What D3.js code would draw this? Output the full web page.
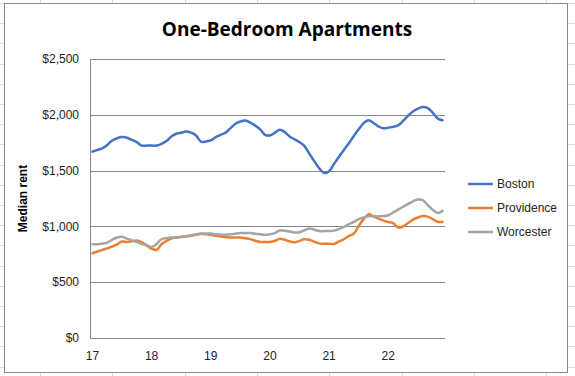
<!DOCTYPE html>
<html>
<head>
<meta charset="utf-8">
<script src="https://cdn.jsdelivr.net/npm/d3@7"></script>
<style>
  body { margin: 0; background: #fff; }
  svg { display: block; font-family: "Liberation Sans", Arial, sans-serif; }
</style>
</head>
<body>
<div id="chart"></div>
<script>
// monthly median rent, Jan 2017 - Dec 2022
var boston = [1670, 1685, 1700, 1730, 1770, 1790, 1800, 1795, 1775, 1755, 1724, 1724,
  1724, 1724, 1740, 1765, 1805, 1830, 1840, 1850, 1840, 1815, 1760, 1760,
  1770, 1800, 1820, 1840, 1880, 1920, 1940, 1948, 1930, 1903, 1870, 1821,
  1815, 1840, 1866, 1845, 1806, 1780, 1755, 1720, 1650, 1585, 1520, 1478,
  1495, 1560, 1624, 1685, 1745, 1810, 1870, 1925, 1951, 1927, 1895, 1879,
  1885, 1893, 1905, 1945, 1990, 2030, 2055, 2070, 2060, 2020, 1968, 1951];
var providence = [759, 775, 790, 803, 820, 840, 864, 860, 866, 874, 858, 830,
  800, 789, 840, 870, 892, 900, 905, 910, 915, 925, 931, 930,
  925, 915, 910, 905, 900, 900, 900, 893, 886, 872, 861, 861,
  861, 870, 890, 880, 865, 858, 870, 885, 880, 862, 848, 845,
  845, 843, 865, 885, 915, 935, 1005, 1065, 1108, 1090, 1070, 1052,
  1040, 1030, 990, 1000, 1030, 1060, 1080, 1093, 1088, 1065, 1042, 1039];
var worcester = [840, 840, 845, 855, 880, 900, 908, 890, 875, 860, 843, 830,
  815, 843, 885, 895, 900, 902, 908, 912, 920, 930, 937, 937,
  937, 930, 925, 926, 928, 935, 940, 940, 940, 935, 930, 925,
  930, 940, 964, 960, 955, 945, 948, 965, 982, 970, 958, 958,
  958, 962, 975, 995, 1020, 1040, 1065, 1080, 1090, 1090, 1090, 1093,
  1100, 1125, 1150, 1175, 1200, 1225, 1241, 1235, 1190, 1150, 1120, 1139];

var seriesNames = ["Boston", "Providence", "Worcester"];
var seriesColors = ["#4472c4", "#ed7d31", "#a5a5a5"];
var yTicks = [0, 500, 1000, 1500, 2000, 2500];
var yearLabels = ["17", "18", "19", "20", "21", "22"];

var W = 575, H = 376;
var plot = { left: 90, right: 445, top: 59, bottom: 338 };

var svg = d3.select("#chart").append("svg")
  .attr("width", W)
  .attr("height", H);

// faint spreadsheet cell grid behind the chart box
var sheet = svg.append("g").attr("stroke", "#dadada").attr("stroke-width", 1);
d3.range(40, W, 72.3).forEach(function (x) {
  sheet.append("line").attr("x1", Math.round(x) + 0.5).attr("x2", Math.round(x) + 0.5)
    .attr("y1", 0).attr("y2", H);
});
d3.range(3, H, 20.2).forEach(function (y) {
  sheet.append("line").attr("x1", 0).attr("x2", W)
    .attr("y1", Math.round(y) + 0.5).attr("y2", Math.round(y) + 0.5);
});

// chart box
svg.append("rect")
  .attr("x", 4.5).attr("y", 3.5)
  .attr("width", 563).attr("height", 369)
  .attr("fill", "#fff")
  .attr("stroke", "#888")
  .attr("stroke-width", 1);

// months as categories, points in the middle of each month slot
var months = d3.range(boston.length);
var x = d3.scaleBand()
  .domain(months)
  .range([plot.left, plot.right]);

var y = d3.scaleLinear()
  .domain([0, 2500])
  .range([plot.bottom, plot.top]);

function xm(i) { return x(i) + x.bandwidth() / 2; }

// gridlines
svg.append("g")
  .selectAll("line")
  .data(yTicks)
  .enter().append("line")
  .attr("x1", plot.left)
  .attr("x2", plot.right)
  .attr("y1", function (d) { return Math.round(y(d)) + 0.5; })
  .attr("y2", function (d) { return Math.round(y(d)) + 0.5; })
  .attr("stroke", "#878787")
  .attr("stroke-width", 1);

// left axis line
svg.append("line")
  .attr("x1", plot.left + 0.5).attr("x2", plot.left + 0.5)
  .attr("y1", Math.round(y(2500)) + 0.5).attr("y2", Math.round(y(0)) + 0.5)
  .attr("stroke", "#878787");

// y axis labels
var fmt = d3.format("$,");
svg.append("g")
  .selectAll("text")
  .data(yTicks)
  .enter().append("text")
  .attr("x", 79)
  .attr("y", function (d) { return y(d); })
  .attr("dy", "0.35em")
  .attr("text-anchor", "end")
  .attr("font-size", "12px")
  .attr("fill", "#222")
  .text(function (d) { return fmt(d); });

// x axis labels (one per year, on January)
svg.append("g")
  .selectAll("text")
  .data(yearLabels)
  .enter().append("text")
  .attr("x", function (d, i) { return xm(i * 12); })
  .attr("y", 356)
  .attr("dy", "0.35em")
  .attr("text-anchor", "middle")
  .attr("font-size", "12px")
  .attr("fill", "#222")
  .text(function (d) { return d; });

// y axis title
svg.append("text")
  .attr("transform", "translate(23," + ((plot.top + plot.bottom) / 2) + ") rotate(-90)")
  .attr("text-anchor", "middle")
  .attr("dy", "0.35em")
  .attr("font-size", "12px")
  .attr("font-weight", "bold")
  .attr("fill", "#000")
  .text("Median rent");

// title
svg.append("text")
  .attr("x", 287)
  .attr("y", 29)
  .attr("dy", "0.35em")
  .attr("text-anchor", "middle")
  .attr("font-family", "'Open Sans', sans-serif")
  .attr("font-size", "19px")
  .attr("font-weight", "bold")
  .attr("fill", "#000")
  .text("One-Bedroom Apartments");

// lines
var allSeries = [boston, providence, worcester];
var line = d3.line()
  .x(function (d, i) { return xm(i); })
  .y(function (d) { return y(d); })
  .curve(d3.curveCatmullRom.alpha(0.5));

svg.append("g")
  .selectAll("path")
  .data(allSeries)
  .enter().append("path")
  .attr("d", line)
  .attr("fill", "none")
  .attr("stroke", function (d, i) { return seriesColors[i]; })
  .attr("stroke-width", 2.5)
  .attr("stroke-linejoin", "round")
  .attr("stroke-linecap", "round");

// legend
var legend = svg.append("g")
  .selectAll("g")
  .data(seriesNames)
  .enter().append("g")
  .attr("transform", function (d, i) { return "translate(468," + (184 + i * 24) + ")"; });

legend.append("line")
  .attr("x1", 0).attr("x2", 25)
  .attr("stroke", function (d, i) { return seriesColors[i]; })
  .attr("stroke-width", 2.5);

legend.append("text")
  .attr("x", 29)
  .attr("dy", "0.35em")
  .attr("font-size", "12px")
  .attr("fill", "#222")
  .text(function (d) { return d; });
</script>
</body>
</html>
